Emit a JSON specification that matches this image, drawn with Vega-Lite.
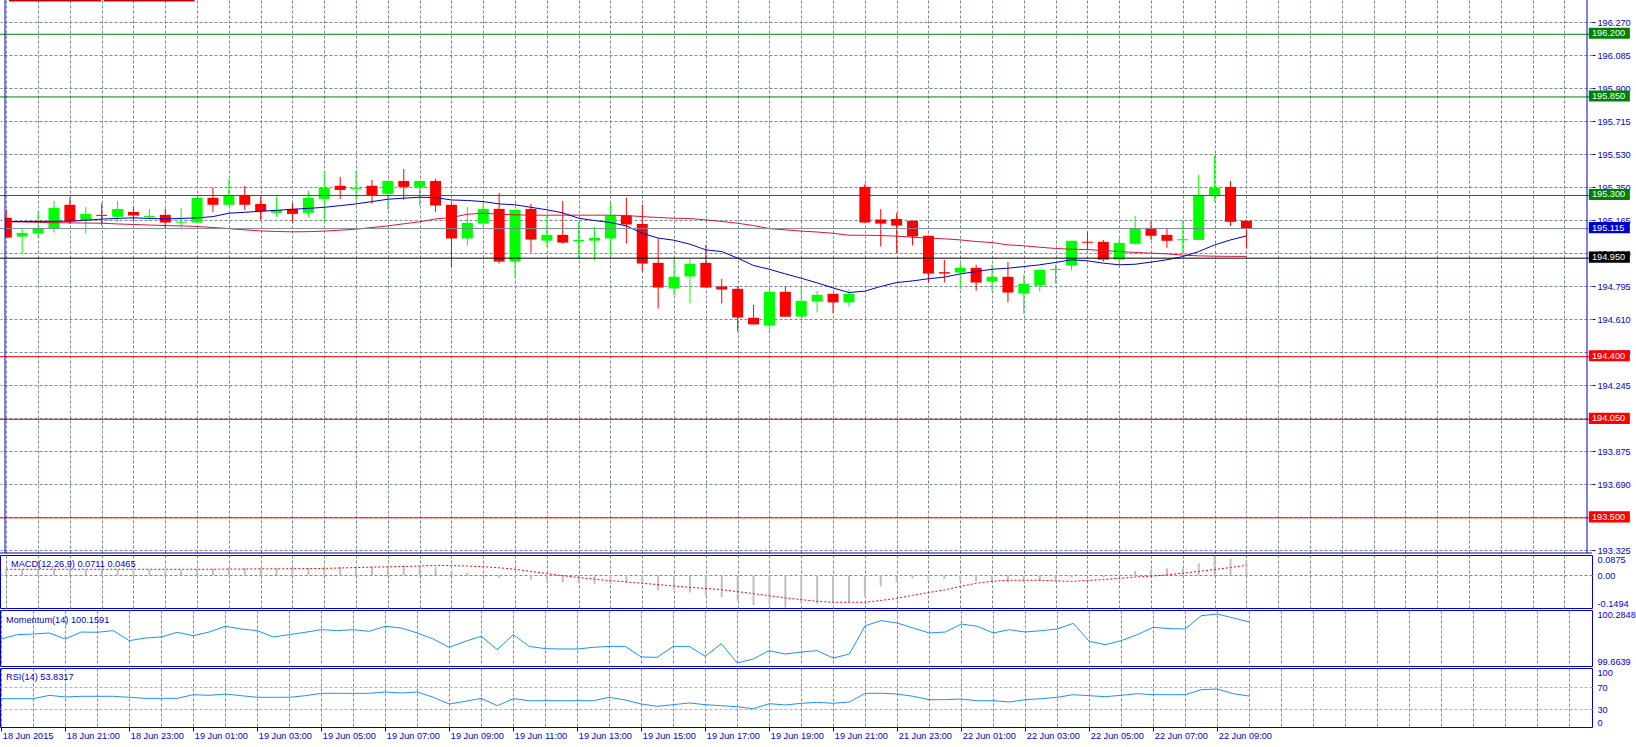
{
  "$schema": "https://vega.github.io/schema/vega-lite/v6.json",
  "background": "#ffffff",
  "autosize": {"type": "none"},
  "padding": {"left": 0, "top": 0, "right": 1636, "bottom": 747},
  "bounds": "flush",
  "spacing": 2,
  "config": {
    "view": {"stroke": "#0000cc", "strokeWidth": 1},
    "axis": {"labelFont": "Liberation Sans", "labelFontSize": 9.2, "labelColor": "#0000dd", "domain": false, "gridColor": "#778899", "gridDash": [3, 2], "gridWidth": 1, "tickColor": "#0000dd", "labelOverlap": false, "labelBound": false},
    "text": {"font": "Liberation Sans"}
  },
  "datasets": {
    "bars": [
      {"i":0,"o":195.175,"h":195.220,"l":195.062,"c":195.065,"ma1":195.154,"ma2":195.153,"macd":0.027,"sig":0.028,"mom":99.963,"rsi":49.0},
      {"i":1,"o":195.071,"h":195.112,"l":194.972,"c":195.091,"ma1":195.155,"ma2":195.152,"macd":0.027,"sig":0.028,"mom":100.013,"rsi":49.0},
      {"i":2,"o":195.088,"h":195.214,"l":195.067,"c":195.119,"ma1":195.155,"ma2":195.150,"macd":0.028,"sig":0.028,"mom":100.020,"rsi":49.0},
      {"i":3,"o":195.114,"h":195.270,"l":195.093,"c":195.231,"ma1":195.156,"ma2":195.148,"macd":0.029,"sig":0.028,"mom":100.032,"rsi":55.2},
      {"i":4,"o":195.248,"h":195.290,"l":195.141,"c":195.156,"ma1":195.156,"ma2":195.147,"macd":0.028,"sig":0.028,"mom":99.963,"rsi":52.1},
      {"i":5,"o":195.160,"h":195.236,"l":195.088,"c":195.197,"ma1":195.162,"ma2":195.146,"macd":0.027,"sig":0.028,"mom":100.043,"rsi":53.4},
      {"i":6,"o":195.192,"h":195.257,"l":195.132,"c":195.186,"ma1":195.168,"ma2":195.145,"macd":0.027,"sig":0.028,"mom":100.040,"rsi":53.4},
      {"i":7,"o":195.181,"h":195.270,"l":195.153,"c":195.225,"ma1":195.172,"ma2":195.141,"macd":0.028,"sig":0.028,"mom":100.059,"rsi":53.4},
      {"i":8,"o":195.208,"h":195.236,"l":195.158,"c":195.188,"ma1":195.175,"ma2":195.138,"macd":0.026,"sig":0.028,"mom":99.944,"rsi":51.6},
      {"i":9,"o":195.180,"h":195.225,"l":195.160,"c":195.186,"ma1":195.172,"ma2":195.135,"macd":0.026,"sig":0.028,"mom":99.974,"rsi":49.7},
      {"i":10,"o":195.192,"h":195.225,"l":195.117,"c":195.149,"ma1":195.169,"ma2":195.132,"macd":0.025,"sig":0.028,"mom":99.986,"rsi":49.7},
      {"i":11,"o":195.148,"h":195.231,"l":195.112,"c":195.154,"ma1":195.172,"ma2":195.130,"macd":0.025,"sig":0.028,"mom":100.040,"rsi":49.7},
      {"i":12,"o":195.149,"h":195.287,"l":195.149,"c":195.287,"ma1":195.175,"ma2":195.127,"macd":0.028,"sig":0.028,"mom":100.001,"rsi":56.4},
      {"i":13,"o":195.287,"h":195.344,"l":195.208,"c":195.248,"ma1":195.182,"ma2":195.121,"macd":0.030,"sig":0.028,"mom":100.043,"rsi":55.2},
      {"i":14,"o":195.248,"h":195.393,"l":195.248,"c":195.303,"ma1":195.201,"ma2":195.115,"macd":0.033,"sig":0.029,"mom":100.109,"rsi":57.6},
      {"i":15,"o":195.303,"h":195.354,"l":195.220,"c":195.248,"ma1":195.206,"ma2":195.108,"macd":0.034,"sig":0.029,"mom":100.078,"rsi":54.5},
      {"i":16,"o":195.253,"h":195.294,"l":195.164,"c":195.212,"ma1":195.212,"ma2":195.102,"macd":0.033,"sig":0.030,"mom":100.059,"rsi":51.6},
      {"i":17,"o":195.203,"h":195.294,"l":195.181,"c":195.220,"ma1":195.217,"ma2":195.099,"macd":0.033,"sig":0.030,"mom":99.986,"rsi":51.6},
      {"i":18,"o":195.225,"h":195.257,"l":195.147,"c":195.197,"ma1":195.223,"ma2":195.097,"macd":0.032,"sig":0.031,"mom":100.013,"rsi":51.6},
      {"i":19,"o":195.203,"h":195.326,"l":195.181,"c":195.287,"ma1":195.228,"ma2":195.098,"macd":0.034,"sig":0.031,"mom":100.040,"rsi":54.5},
      {"i":20,"o":195.281,"h":195.435,"l":195.153,"c":195.342,"ma1":195.234,"ma2":195.101,"macd":0.038,"sig":0.032,"mom":100.070,"rsi":58.9},
      {"i":21,"o":195.354,"h":195.404,"l":195.281,"c":195.331,"ma1":195.243,"ma2":195.106,"macd":0.040,"sig":0.034,"mom":100.059,"rsi":58.9},
      {"i":22,"o":195.337,"h":195.435,"l":195.275,"c":195.343,"ma1":195.253,"ma2":195.112,"macd":0.042,"sig":0.036,"mom":100.070,"rsi":58.9},
      {"i":23,"o":195.354,"h":195.387,"l":195.253,"c":195.303,"ma1":195.266,"ma2":195.121,"macd":0.041,"sig":0.038,"mom":100.051,"rsi":58.9},
      {"i":24,"o":195.309,"h":195.381,"l":195.220,"c":195.381,"ma1":195.279,"ma2":195.130,"macd":0.044,"sig":0.039,"mom":100.109,"rsi":61.3},
      {"i":25,"o":195.381,"h":195.448,"l":195.275,"c":195.348,"ma1":195.285,"ma2":195.142,"macd":0.046,"sig":0.041,"mom":100.089,"rsi":59.5},
      {"i":26,"o":195.348,"h":195.381,"l":195.242,"c":195.381,"ma1":195.290,"ma2":195.153,"macd":0.045,"sig":0.043,"mom":100.032,"rsi":61.3},
      {"i":27,"o":195.381,"h":195.393,"l":195.208,"c":195.244,"ma1":195.288,"ma2":195.169,"macd":0.040,"sig":0.046,"mom":99.963,"rsi":51.6},
      {"i":28,"o":195.248,"h":195.261,"l":194.903,"c":195.060,"ma1":195.275,"ma2":195.177,"macd":0.018,"sig":0.045,"mom":99.867,"rsi":39.2},
      {"i":29,"o":195.060,"h":195.236,"l":195.021,"c":195.147,"ma1":195.272,"ma2":195.195,"macd":0.012,"sig":0.043,"mom":99.936,"rsi":44.2},
      {"i":30,"o":195.143,"h":195.264,"l":195.115,"c":195.225,"ma1":195.266,"ma2":195.201,"macd":0.004,"sig":0.040,"mom":99.994,"rsi":49.7},
      {"i":31,"o":195.225,"h":195.314,"l":194.920,"c":194.931,"ma1":195.253,"ma2":195.195,"macd":-0.012,"sig":0.035,"mom":99.840,"rsi":36.1},
      {"i":32,"o":194.931,"h":195.220,"l":194.842,"c":195.220,"ma1":195.248,"ma2":195.192,"macd":-0.010,"sig":0.028,"mom":100.013,"rsi":49.0},
      {"i":33,"o":195.225,"h":195.253,"l":194.982,"c":195.054,"ma1":195.234,"ma2":195.190,"macd":-0.020,"sig":0.018,"mom":99.878,"rsi":45.3},
      {"i":34,"o":195.048,"h":195.186,"l":195.015,"c":195.080,"ma1":195.220,"ma2":195.190,"macd":-0.026,"sig":0.008,"mom":99.852,"rsi":45.3},
      {"i":35,"o":195.080,"h":195.270,"l":195.032,"c":195.037,"ma1":195.203,"ma2":195.190,"macd":-0.033,"sig":-0.002,"mom":99.848,"rsi":45.3},
      {"i":36,"o":195.045,"h":195.153,"l":194.948,"c":195.052,"ma1":195.173,"ma2":195.190,"macd":-0.036,"sig":-0.010,"mom":99.848,"rsi":45.3},
      {"i":37,"o":195.048,"h":195.125,"l":194.937,"c":195.063,"ma1":195.160,"ma2":195.190,"macd":-0.040,"sig":-0.018,"mom":99.867,"rsi":45.3},
      {"i":38,"o":195.060,"h":195.259,"l":194.965,"c":195.188,"ma1":195.149,"ma2":195.190,"macd":-0.039,"sig":-0.025,"mom":99.878,"rsi":51.6},
      {"i":39,"o":195.188,"h":195.287,"l":195.032,"c":195.138,"ma1":195.130,"ma2":195.188,"macd":-0.036,"sig":-0.031,"mom":99.878,"rsi":46.6},
      {"i":40,"o":195.141,"h":195.249,"l":194.875,"c":194.920,"ma1":195.089,"ma2":195.182,"macd":-0.042,"sig":-0.037,"mom":99.756,"rsi":39.2},
      {"i":41,"o":194.924,"h":195.060,"l":194.669,"c":194.786,"ma1":195.062,"ma2":195.177,"macd":-0.070,"sig":-0.043,"mom":99.752,"rsi":35.0},
      {"i":42,"o":194.781,"h":194.954,"l":194.742,"c":194.846,"ma1":195.050,"ma2":195.173,"macd":-0.066,"sig":-0.050,"mom":99.878,"rsi":37.9},
      {"i":43,"o":194.848,"h":194.946,"l":194.697,"c":194.918,"ma1":195.028,"ma2":195.171,"macd":-0.080,"sig":-0.056,"mom":99.878,"rsi":41.1},
      {"i":44,"o":194.924,"h":195.024,"l":194.786,"c":194.786,"ma1":194.996,"ma2":195.164,"macd":-0.094,"sig":-0.061,"mom":99.764,"rsi":38.0},
      {"i":45,"o":194.792,"h":194.835,"l":194.697,"c":194.775,"ma1":194.987,"ma2":195.155,"macd":-0.101,"sig":-0.067,"mom":99.909,"rsi":36.1},
      {"i":46,"o":194.779,"h":194.792,"l":194.541,"c":194.619,"ma1":194.950,"ma2":195.145,"macd":-0.118,"sig":-0.076,"mom":99.687,"rsi":34.2},
      {"i":47,"o":194.617,"h":194.689,"l":194.580,"c":194.580,"ma1":194.909,"ma2":195.132,"macd":-0.138,"sig":-0.085,"mom":99.733,"rsi":30.6},
      {"i":48,"o":194.574,"h":194.790,"l":194.541,"c":194.762,"ma1":194.888,"ma2":195.115,"macd":-0.136,"sig":-0.095,"mom":99.829,"rsi":39.8},
      {"i":49,"o":194.762,"h":194.790,"l":194.623,"c":194.623,"ma1":194.862,"ma2":195.108,"macd":-0.1494,"sig":-0.105,"mom":99.790,"rsi":37.4},
      {"i":50,"o":194.624,"h":194.790,"l":194.624,"c":194.712,"ma1":194.838,"ma2":195.101,"macd":-0.133,"sig":-0.113,"mom":99.813,"rsi":40.5},
      {"i":51,"o":194.708,"h":194.768,"l":194.647,"c":194.745,"ma1":194.812,"ma2":195.096,"macd":-0.132,"sig":-0.121,"mom":99.829,"rsi":42.3},
      {"i":52,"o":194.751,"h":194.751,"l":194.643,"c":194.703,"ma1":194.784,"ma2":195.089,"macd":-0.127,"sig":-0.125,"mom":99.744,"rsi":40.5},
      {"i":53,"o":194.703,"h":194.777,"l":194.680,"c":194.751,"ma1":194.758,"ma2":195.078,"macd":-0.127,"sig":-0.125,"mom":99.790,"rsi":42.9},
      {"i":54,"o":195.348,"h":195.365,"l":195.149,"c":195.149,"ma1":194.766,"ma2":195.078,"macd":-0.098,"sig":-0.125,"mom":100.116,"rsi":58.9},
      {"i":55,"o":195.166,"h":195.225,"l":195.015,"c":195.143,"ma1":194.792,"ma2":195.076,"macd":-0.051,"sig":-0.117,"mom":100.174,"rsi":58.9},
      {"i":56,"o":195.169,"h":195.203,"l":194.980,"c":195.132,"ma1":194.814,"ma2":195.073,"macd":-0.030,"sig":-0.107,"mom":100.147,"rsi":57.6},
      {"i":57,"o":195.158,"h":195.162,"l":195.021,"c":195.071,"ma1":194.823,"ma2":195.067,"macd":-0.014,"sig":-0.093,"mom":100.089,"rsi":53.4},
      {"i":58,"o":195.075,"h":195.075,"l":194.814,"c":194.864,"ma1":194.835,"ma2":195.062,"macd":-0.020,"sig":-0.080,"mom":100.032,"rsi":47.2},
      {"i":59,"o":194.872,"h":194.941,"l":194.814,"c":194.864,"ma1":194.844,"ma2":195.058,"macd":-0.018,"sig":-0.068,"mom":100.043,"rsi":47.2},
      {"i":60,"o":194.870,"h":194.924,"l":194.775,"c":194.896,"ma1":194.862,"ma2":195.052,"macd":-0.022,"sig":-0.052,"mom":100.135,"rsi":48.4},
      {"i":61,"o":194.896,"h":194.913,"l":194.769,"c":194.814,"ma1":194.875,"ma2":195.043,"macd":-0.028,"sig":-0.037,"mom":100.109,"rsi":45.3},
      {"i":62,"o":194.820,"h":194.913,"l":194.764,"c":194.846,"ma1":194.888,"ma2":195.037,"macd":-0.024,"sig":-0.028,"mom":100.032,"rsi":45.3},
      {"i":63,"o":194.846,"h":194.929,"l":194.703,"c":194.758,"ma1":194.894,"ma2":195.024,"macd":-0.033,"sig":-0.023,"mom":100.070,"rsi":42.9},
      {"i":64,"o":194.753,"h":194.857,"l":194.641,"c":194.807,"ma1":194.903,"ma2":195.019,"macd":-0.031,"sig":-0.023,"mom":100.043,"rsi":47.2},
      {"i":65,"o":194.797,"h":194.885,"l":194.764,"c":194.885,"ma1":194.913,"ma2":195.011,"macd":-0.027,"sig":-0.023,"mom":100.059,"rsi":49.0},
      {"i":66,"o":194.884,"h":194.913,"l":194.809,"c":194.890,"ma1":194.926,"ma2":195.004,"macd":-0.022,"sig":-0.026,"mom":100.078,"rsi":51.6},
      {"i":67,"o":194.909,"h":195.047,"l":194.881,"c":195.047,"ma1":194.941,"ma2":195.000,"macd":-0.008,"sig":-0.028,"mom":100.143,"rsi":56.4},
      {"i":68,"o":195.042,"h":195.097,"l":194.998,"c":195.036,"ma1":194.935,"ma2":194.998,"macd":-0.004,"sig":-0.024,"mom":99.936,"rsi":54.5},
      {"i":69,"o":195.041,"h":195.052,"l":194.931,"c":194.942,"ma1":194.922,"ma2":194.993,"macd":-0.009,"sig":-0.020,"mom":99.898,"rsi":52.8},
      {"i":70,"o":194.942,"h":195.058,"l":194.909,"c":195.035,"ma1":194.913,"ma2":194.987,"macd":0.004,"sig":-0.014,"mom":99.944,"rsi":55.2},
      {"i":71,"o":195.030,"h":195.186,"l":195.024,"c":195.119,"ma1":194.916,"ma2":194.982,"macd":0.020,"sig":-0.008,"mom":100.013,"rsi":58.3},
      {"i":72,"o":195.119,"h":195.153,"l":195.052,"c":195.075,"ma1":194.928,"ma2":194.978,"macd":0.027,"sig":-0.004,"mom":100.097,"rsi":56.4},
      {"i":73,"o":195.080,"h":195.119,"l":195.008,"c":195.047,"ma1":194.941,"ma2":194.974,"macd":0.032,"sig":0.002,"mom":100.082,"rsi":56.4},
      {"i":74,"o":195.050,"h":195.158,"l":194.982,"c":195.056,"ma1":194.959,"ma2":194.967,"macd":0.032,"sig":0.010,"mom":100.078,"rsi":56.4},
      {"i":75,"o":195.052,"h":195.415,"l":195.052,"c":195.303,"ma1":194.987,"ma2":194.963,"macd":0.056,"sig":0.018,"mom":100.231,"rsi":65.6},
      {"i":76,"o":195.303,"h":195.525,"l":195.266,"c":195.344,"ma1":195.024,"ma2":194.961,"macd":0.0875,"sig":0.027,"mom":100.250,"rsi":66.9},
      {"i":77,"o":195.348,"h":195.381,"l":195.130,"c":195.153,"ma1":195.052,"ma2":194.960,"macd":0.076,"sig":0.036,"mom":100.204,"rsi":58.3},
      {"i":78,"o":195.159,"h":195.159,"l":195.004,"c":195.115,"ma1":195.074,"ma2":194.960,"macd":0.0711,"sig":0.0465,"mom":100.1591,"rsi":53.8317}
    ],
    "levels": [
      {"level": 196.2, "kind": "resistance"},
      {"level": 195.85, "kind": "resistance"},
      {"level": 195.3, "kind": "resistance"},
      {"level": 195.115, "kind": "bid"},
      {"level": 194.95, "kind": "pivot"},
      {"level": 194.4, "kind": "support"},
      {"level": 194.05, "kind": "support"},
      {"level": 193.5, "kind": "support"}
    ]
  },
  "vconcat": [
    {
      "width": 1592,
      "height": 553,
      "view": {"stroke": null},
      "layer": [
        {
          "data": {"name": "bars"},
          "mark": {"type": "rule", "strokeWidth": 1, "clip": true},
          "encoding": {
            "x": {"field": "i", "type": "quantitative", "scale": {"domain": [-0.08, 99.42], "nice": false, "zero": false},
              "axis": {"title": null, "values": [0,2,4,6,8,10,12,14,16,18,20,22,24,26,28,30,32,34,36,38,40,42,44,46,48,50,52,54,56,58,60,62,64,66,68,70,72,74,76,78,80,82,84,86,88,90,92,94,96,98], "labels": false, "ticks": false, "grid": true}},
            "y": {"field": "l", "type": "quantitative", "scale": {"domain": [193.3038, 196.3914], "nice": false, "zero": false},
              "axis": {"title": null, "orient": "right", "values": [196.267, 196.0826, 195.8983, 195.714, 195.5297, 195.3454, 195.161, 194.9767, 194.7924, 194.6081, 194.4238, 194.2394, 194.0551, 193.8708, 193.6865, 193.5022, 193.3178], "labelExpr": "['196.270','196.085','195.900','195.715','195.530','195.350','195.165','194.980','194.795','194.610','194.430','194.245','','193.875','193.690','','193.325'][round((196.267 - datum.value) / 0.18432)]", "grid": true, "ticks": true, "tickSize": 3, "labelPadding": 2, "labelBaseline": "middle", "labelFlush": false}},
            "y2": {"field": "h"},
            "color": {"condition": {"test": "datum.c >= datum.o", "value": "#00ff00"}, "value": "#ff0000"}
          }
        },
        {
          "data": {"name": "bars"},
          "transform": [{"filter": "datum.i > 0"}],
          "mark": {"type": "bar", "width": 11, "clip": true},
          "encoding": {
            "x": {"field": "i", "type": "quantitative", "scale": {"domain": [-0.08, 99.42], "nice": false, "zero": false},
              "axis": {"title": null, "values": [0,2,4,6,8,10,12,14,16,18,20,22,24,26,28,30,32,34,36,38,40,42,44,46,48,50,52,54,56,58,60,62,64,66,68,70,72,74,76,78,80,82,84,86,88,90,92,94,96,98], "labels": false, "ticks": false, "grid": true}},
            "y": {"field": "o", "type": "quantitative", "scale": {"domain": [193.3038, 196.3914], "nice": false, "zero": false},
              "axis": {"title": null, "orient": "right", "values": [196.267, 196.0826, 195.8983, 195.714, 195.5297, 195.3454, 195.161, 194.9767, 194.7924, 194.6081, 194.4238, 194.2394, 194.0551, 193.8708, 193.6865, 193.5022, 193.3178], "labelExpr": "['196.270','196.085','195.900','195.715','195.530','195.350','195.165','194.980','194.795','194.610','194.430','194.245','','193.875','193.690','','193.325'][round((196.267 - datum.value) / 0.18432)]", "grid": true, "ticks": true, "tickSize": 3, "labelPadding": 2, "labelBaseline": "middle", "labelFlush": false}},
            "y2": {"field": "c"},
            "color": {"condition": {"test": "datum.c >= datum.o", "value": "#00ff00"}, "value": "#ff0000"}
          }
        },
        {
          "data": {"name": "bars"},
          "transform": [{"filter": "datum.i == 0"}],
          "mark": {"type": "bar", "width": 6.8, "xOffset": 2.12, "clip": true},
          "encoding": {
            "x": {"field": "i", "type": "quantitative", "scale": {"domain": [-0.08, 99.42], "nice": false, "zero": false},
              "axis": {"title": null, "values": [0,2,4,6,8,10,12,14,16,18,20,22,24,26,28,30,32,34,36,38,40,42,44,46,48,50,52,54,56,58,60,62,64,66,68,70,72,74,76,78,80,82,84,86,88,90,92,94,96,98], "labels": false, "ticks": false, "grid": true}},
            "y": {"field": "o", "type": "quantitative", "scale": {"domain": [193.3038, 196.3914], "nice": false, "zero": false},
              "axis": {"title": null, "orient": "right", "values": [196.267, 196.0826, 195.8983, 195.714, 195.5297, 195.3454, 195.161, 194.9767, 194.7924, 194.6081, 194.4238, 194.2394, 194.0551, 193.8708, 193.6865, 193.5022, 193.3178], "labelExpr": "['196.270','196.085','195.900','195.715','195.530','195.350','195.165','194.980','194.795','194.610','194.430','194.245','','193.875','193.690','','193.325'][round((196.267 - datum.value) / 0.18432)]", "grid": true, "ticks": true, "tickSize": 3, "labelPadding": 2, "labelBaseline": "middle", "labelFlush": false}},
            "y2": {"field": "c"},
            "color": {"condition": {"test": "datum.c >= datum.o", "value": "#00ff00"}, "value": "#ff0000"}
          }
        },
        {
          "data": {"name": "bars"},
          "mark": {"type": "line", "color": "#dc143c", "strokeWidth": 1, "clip": true},
          "encoding": {
            "x": {"field": "i", "type": "quantitative", "scale": {"domain": [-0.08, 99.42], "nice": false, "zero": false},
              "axis": {"title": null, "values": [0,2,4,6,8,10,12,14,16,18,20,22,24,26,28,30,32,34,36,38,40,42,44,46,48,50,52,54,56,58,60,62,64,66,68,70,72,74,76,78,80,82,84,86,88,90,92,94,96,98], "labels": false, "ticks": false, "grid": true}},
            "y": {"field": "ma2", "type": "quantitative", "scale": {"domain": [193.3038, 196.3914], "nice": false, "zero": false},
              "axis": {"title": null, "orient": "right", "values": [196.267, 196.0826, 195.8983, 195.714, 195.5297, 195.3454, 195.161, 194.9767, 194.7924, 194.6081, 194.4238, 194.2394, 194.0551, 193.8708, 193.6865, 193.5022, 193.3178], "labelExpr": "['196.270','196.085','195.900','195.715','195.530','195.350','195.165','194.980','194.795','194.610','194.430','194.245','','193.875','193.690','','193.325'][round((196.267 - datum.value) / 0.18432)]", "grid": true, "ticks": true, "tickSize": 3, "labelPadding": 2, "labelBaseline": "middle", "labelFlush": false}}
          }
        },
        {
          "data": {"name": "bars"},
          "mark": {"type": "line", "color": "#0000cd", "strokeWidth": 1, "clip": true},
          "encoding": {
            "x": {"field": "i", "type": "quantitative", "scale": {"domain": [-0.08, 99.42], "nice": false, "zero": false},
              "axis": {"title": null, "values": [0,2,4,6,8,10,12,14,16,18,20,22,24,26,28,30,32,34,36,38,40,42,44,46,48,50,52,54,56,58,60,62,64,66,68,70,72,74,76,78,80,82,84,86,88,90,92,94,96,98], "labels": false, "ticks": false, "grid": true}},
            "y": {"field": "ma1", "type": "quantitative", "scale": {"domain": [193.3038, 196.3914], "nice": false, "zero": false},
              "axis": {"title": null, "orient": "right", "values": [196.267, 196.0826, 195.8983, 195.714, 195.5297, 195.3454, 195.161, 194.9767, 194.7924, 194.6081, 194.4238, 194.2394, 194.0551, 193.8708, 193.6865, 193.5022, 193.3178], "labelExpr": "['196.270','196.085','195.900','195.715','195.530','195.350','195.165','194.980','194.795','194.610','194.430','194.245','','193.875','193.690','','193.325'][round((196.267 - datum.value) / 0.18432)]", "grid": true, "ticks": true, "tickSize": 3, "labelPadding": 2, "labelBaseline": "middle", "labelFlush": false}}
          }
        },
        {
          "data": {"name": "levels"},
          "mark": {"type": "rule", "strokeWidth": 1},
          "encoding": {
            "y": {"field": "level", "type": "quantitative", "scale": {"domain": [193.3038, 196.3914], "nice": false, "zero": false},
              "axis": {"title": null, "orient": "right", "values": [196.267, 196.0826, 195.8983, 195.714, 195.5297, 195.3454, 195.161, 194.9767, 194.7924, 194.6081, 194.4238, 194.2394, 194.0551, 193.8708, 193.6865, 193.5022, 193.3178], "labelExpr": "['196.270','196.085','195.900','195.715','195.530','195.350','195.165','194.980','194.795','194.610','194.430','194.245','','193.875','193.690','','193.325'][round((196.267 - datum.value) / 0.18432)]", "grid": true, "ticks": true, "tickSize": 3, "labelPadding": 2, "labelBaseline": "middle", "labelFlush": false}},
            "color": {"condition": [{"test": "datum.kind == 'resistance'", "value": "#008000"}, {"test": "datum.kind == 'support'", "value": "#ff0000"}, {"test": "datum.kind == 'bid'", "value": "#778899"}], "value": "#000000"}
          }
        },
        {
          "data": {"name": "levels"},
          "mark": {"type": "point", "shape": "M-1,-0.27H1V0.27H-1Z", "filled": true, "size": 1681, "opacity": 1, "strokeWidth": 0, "yOffset": -1},
          "encoding": {
            "x": {"datum": 100.826, "type": "quantitative", "scale": {"domain": [-0.08, 99.42], "nice": false, "zero": false},
              "axis": {"title": null, "values": [0,2,4,6,8,10,12,14,16,18,20,22,24,26,28,30,32,34,36,38,40,42,44,46,48,50,52,54,56,58,60,62,64,66,68,70,72,74,76,78,80,82,84,86,88,90,92,94,96,98], "labels": false, "ticks": false, "grid": true}},
            "y": {"field": "level", "type": "quantitative", "scale": {"domain": [193.3038, 196.3914], "nice": false, "zero": false},
              "axis": {"title": null, "orient": "right", "values": [196.267, 196.0826, 195.8983, 195.714, 195.5297, 195.3454, 195.161, 194.9767, 194.7924, 194.6081, 194.4238, 194.2394, 194.0551, 193.8708, 193.6865, 193.5022, 193.3178], "labelExpr": "['196.270','196.085','195.900','195.715','195.530','195.350','195.165','194.980','194.795','194.610','194.430','194.245','','193.875','193.690','','193.325'][round((196.267 - datum.value) / 0.18432)]", "grid": true, "ticks": true, "tickSize": 3, "labelPadding": 2, "labelBaseline": "middle", "labelFlush": false}},
            "color": {"condition": [{"test": "datum.kind == 'resistance'", "value": "#008000"}, {"test": "datum.kind == 'support'", "value": "#ff0000"}, {"test": "datum.kind == 'bid'", "value": "#0000cd"}], "value": "#000000"}
          }
        },
        {
          "data": {"name": "levels"},
          "mark": {"type": "text", "align": "left", "baseline": "middle", "color": "#ffffff", "fontSize": 9.2, "dy": -1},
          "encoding": {
            "x": {"datum": 99.73, "type": "quantitative", "scale": {"domain": [-0.08, 99.42], "nice": false, "zero": false},
              "axis": {"title": null, "values": [0,2,4,6,8,10,12,14,16,18,20,22,24,26,28,30,32,34,36,38,40,42,44,46,48,50,52,54,56,58,60,62,64,66,68,70,72,74,76,78,80,82,84,86,88,90,92,94,96,98], "labels": false, "ticks": false, "grid": true}},
            "y": {"field": "level", "type": "quantitative", "scale": {"domain": [193.3038, 196.3914], "nice": false, "zero": false},
              "axis": {"title": null, "orient": "right", "values": [196.267, 196.0826, 195.8983, 195.714, 195.5297, 195.3454, 195.161, 194.9767, 194.7924, 194.6081, 194.4238, 194.2394, 194.0551, 193.8708, 193.6865, 193.5022, 193.3178], "labelExpr": "['196.270','196.085','195.900','195.715','195.530','195.350','195.165','194.980','194.795','194.610','194.430','194.245','','193.875','193.690','','193.325'][round((196.267 - datum.value) / 0.18432)]", "grid": true, "ticks": true, "tickSize": 3, "labelPadding": 2, "labelBaseline": "middle", "labelFlush": false}},
            "text": {"field": "level", "type": "quantitative", "format": ".3f"}
          }
        },
        {
          "data": {"values": [{"edge": -0.08}, {"edge": 99.42}]},
          "mark": {"type": "rule", "color": "#0000cc", "strokeWidth": 1},
          "encoding": {
            "x": {"field": "edge", "type": "quantitative", "scale": {"domain": [-0.08, 99.42], "nice": false, "zero": false},
              "axis": {"title": null, "values": [0,2,4,6,8,10,12,14,16,18,20,22,24,26,28,30,32,34,36,38,40,42,44,46,48,50,52,54,56,58,60,62,64,66,68,70,72,74,76,78,80,82,84,86,88,90,92,94,96,98], "labels": false, "ticks": false, "grid": true}}
          }
        },
        {
          "data": {"values": [{"edge": 193.3038}]},
          "mark": {"type": "rule", "color": "#0000cc", "strokeWidth": 1},
          "encoding": {
            "y": {"field": "edge", "type": "quantitative", "scale": {"domain": [193.3038, 196.3914], "nice": false, "zero": false},
              "axis": {"title": null, "orient": "right", "values": [196.267, 196.0826, 195.8983, 195.714, 195.5297, 195.3454, 195.161, 194.9767, 194.7924, 194.6081, 194.4238, 194.2394, 194.0551, 193.8708, 193.6865, 193.5022, 193.3178], "labelExpr": "['196.270','196.085','195.900','195.715','195.530','195.350','195.165','194.980','194.795','194.610','194.430','194.245','','193.875','193.690','','193.325'][round((196.267 - datum.value) / 0.18432)]", "grid": true, "ticks": true, "tickSize": 3, "labelPadding": 2, "labelBaseline": "middle", "labelFlush": false}}
          }
        },
        {
          "data": {"values": [{"a": 0.17, "b": 5.964, "y": 196.3875}, {"a": 6.126, "b": 11.839, "y": 196.3875}]},
          "mark": {"type": "rule", "color": "#c00000", "strokeWidth": 1.4},
          "encoding": {
            "x": {"field": "a", "type": "quantitative", "scale": {"domain": [-0.08, 99.42], "nice": false, "zero": false},
              "axis": {"title": null, "values": [0,2,4,6,8,10,12,14,16,18,20,22,24,26,28,30,32,34,36,38,40,42,44,46,48,50,52,54,56,58,60,62,64,66,68,70,72,74,76,78,80,82,84,86,88,90,92,94,96,98], "labels": false, "ticks": false, "grid": true}},
            "x2": {"field": "b"},
            "y": {"field": "y", "type": "quantitative", "scale": {"domain": [193.3038, 196.3914], "nice": false, "zero": false},
              "axis": {"title": null, "orient": "right", "values": [196.267, 196.0826, 195.8983, 195.714, 195.5297, 195.3454, 195.161, 194.9767, 194.7924, 194.6081, 194.4238, 194.2394, 194.0551, 193.8708, 193.6865, 193.5022, 193.3178], "labelExpr": "['196.270','196.085','195.900','195.715','195.530','195.350','195.165','194.980','194.795','194.610','194.430','194.245','','193.875','193.690','','193.325'][round((196.267 - datum.value) / 0.18432)]", "grid": true, "ticks": true, "tickSize": 3, "labelPadding": 2, "labelBaseline": "middle", "labelFlush": false}}
          }
        }
      ]
    },
    {
      "width": 1592,
      "height": 53,
      "layer": [
        {
          "data": {"name": "bars"},
          "mark": {"type": "bar", "width": 2, "color": "#c0c0c0"},
          "encoding": {
            "x": {"field": "i", "type": "quantitative", "scale": {"domain": [-0.08, 99.42], "nice": false, "zero": false},
              "axis": {"title": null, "values": [0,2,4,6,8,10,12,14,16,18,20,22,24,26,28,30,32,34,36,38,40,42,44,46,48,50,52,54,56,58,60,62,64,66,68,70,72,74,76,78,80,82,84,86,88,90,92,94,96,98], "labels": false, "ticks": false, "grid": true}},
            "y": {"field": "macd", "type": "quantitative", "scale": {"domain": [-0.1519, 0.0943], "nice": false, "zero": false},
              "axis": {"title": null, "orient": "right", "values": [-0.1519, 0, 0.0943], "labelExpr": "datum.value > 0.05 ? '0.0875' : (datum.value < -0.1 ? '-0.1494' : '0.00')", "labelFlush": true, "ticks": false, "labelPadding": 5, "grid": true, "gridOpacity": {"condition": {"test": "datum.value == 0", "value": 1}, "value": 0}}},
            "y2": {"datum": 0}
          }
        },
        {
          "data": {"name": "bars"},
          "mark": {"type": "line", "color": "#ff0000", "strokeWidth": 1, "strokeDash": [2, 2]},
          "encoding": {
            "x": {"field": "i", "type": "quantitative", "scale": {"domain": [-0.08, 99.42], "nice": false, "zero": false},
              "axis": {"title": null, "values": [0,2,4,6,8,10,12,14,16,18,20,22,24,26,28,30,32,34,36,38,40,42,44,46,48,50,52,54,56,58,60,62,64,66,68,70,72,74,76,78,80,82,84,86,88,90,92,94,96,98], "labels": false, "ticks": false, "grid": true}},
            "y": {"field": "sig", "type": "quantitative", "scale": {"domain": [-0.1519, 0.0943], "nice": false, "zero": false},
              "axis": {"title": null, "orient": "right", "values": [-0.1519, 0, 0.0943], "labelExpr": "datum.value > 0.05 ? '0.0875' : (datum.value < -0.1 ? '-0.1494' : '0.00')", "labelFlush": true, "ticks": false, "labelPadding": 5, "grid": true, "gridOpacity": {"condition": {"test": "datum.value == 0", "value": 1}, "value": 0}}}
          }
        },
        {
          "data": {"values": [{"label": "MACD(12,26,9) 0.0711 0.0465", "x": 0.3, "y": 0.0525}]},
          "mark": {"type": "text", "align": "left", "baseline": "middle", "color": "#0000cc", "fontSize": 9.2},
          "encoding": {
            "x": {"field": "x", "type": "quantitative", "scale": {"domain": [-0.08, 99.42], "nice": false, "zero": false},
              "axis": {"title": null, "values": [0,2,4,6,8,10,12,14,16,18,20,22,24,26,28,30,32,34,36,38,40,42,44,46,48,50,52,54,56,58,60,62,64,66,68,70,72,74,76,78,80,82,84,86,88,90,92,94,96,98], "labels": false, "ticks": false, "grid": true}},
            "y": {"field": "y", "type": "quantitative", "scale": {"domain": [-0.1519, 0.0943], "nice": false, "zero": false},
              "axis": {"title": null, "orient": "right", "values": [-0.1519, 0, 0.0943], "labelExpr": "datum.value > 0.05 ? '0.0875' : (datum.value < -0.1 ? '-0.1494' : '0.00')", "labelFlush": true, "ticks": false, "labelPadding": 5, "grid": true, "gridOpacity": {"condition": {"test": "datum.value == 0", "value": 1}, "value": 0}}},
            "text": {"field": "label"}
          }
        }
      ]
    },
    {
      "width": 1592,
      "height": 56,
      "layer": [
        {
          "data": {"name": "bars"},
          "mark": {"type": "line", "color": "#1e90ff", "strokeWidth": 1},
          "encoding": {
            "x": {"field": "i", "type": "quantitative", "scale": {"domain": [-0.08, 99.42], "nice": false, "zero": false},
              "axis": {"title": null, "values": [0,2,4,6,8,10,12,14,16,18,20,22,24,26,28,30,32,34,36,38,40,42,44,46,48,50,52,54,56,58,60,62,64,66,68,70,72,74,76,78,80,82,84,86,88,90,92,94,96,98], "labels": false, "ticks": false, "grid": true}},
            "y": {"field": "mom", "type": "quantitative", "scale": {"domain": [99.6524, 100.2963], "nice": false, "zero": false},
              "axis": {"title": null, "orient": "right", "values": [99.6524, 100.2963], "labelExpr": "datum.value > 100 ? '100.2848' : '99.6639'", "labelFlush": true, "ticks": false, "labelPadding": 5, "grid": false}}
          }
        },
        {
          "data": {"values": [{"label": "Momentum(14) 100.1591", "x": 0.3, "y": 100.187}]},
          "mark": {"type": "text", "align": "left", "baseline": "middle", "color": "#0000cc", "fontSize": 9.2},
          "encoding": {
            "x": {"field": "x", "type": "quantitative", "scale": {"domain": [-0.08, 99.42], "nice": false, "zero": false},
              "axis": {"title": null, "values": [0,2,4,6,8,10,12,14,16,18,20,22,24,26,28,30,32,34,36,38,40,42,44,46,48,50,52,54,56,58,60,62,64,66,68,70,72,74,76,78,80,82,84,86,88,90,92,94,96,98], "labels": false, "ticks": false, "grid": true}},
            "y": {"field": "y", "type": "quantitative", "scale": {"domain": [99.6524, 100.2963], "nice": false, "zero": false},
              "axis": {"title": null, "orient": "right", "values": [99.6524, 100.2963], "labelExpr": "datum.value > 100 ? '100.2848' : '99.6639'", "labelFlush": true, "ticks": false, "labelPadding": 5, "grid": false}},
            "text": {"field": "label"}
          }
        }
      ]
    },
    {
      "width": 1592,
      "height": 59,
      "layer": [
        {
          "data": {"name": "bars"},
          "mark": {"type": "line", "color": "#1e90ff", "strokeWidth": 1},
          "encoding": {
            "x": {"field": "i", "type": "quantitative", "scale": {"domain": [-0.08, 99.42], "nice": false, "zero": false},
              "axis": {"title": null, "values": [0,2,4,6,8,10,12,14,16,18,20,22,24,26,28,30,32,34,36,38,40,42,44,46,48,50,52,54,56,58,60,62,64,66,68,70,72,74,76,78,80,82,84,86,88,90,92,94,96,98], "grid": true, "ticks": true, "tickSize": 4, "tickColor": {"condition": {"test": "datum.value % 4 == 0 && datum.value <= 76", "value": "#0000cc"}, "value": "transparent"}, "labelExpr": "(datum.value % 4 == 0 && datum.value <= 76) ? ['18 Jun 2015','18 Jun 21:00','18 Jun 23:00','19 Jun 01:00','19 Jun 03:00','19 Jun 05:00','19 Jun 07:00','19 Jun 09:00','19 Jun 11:00','19 Jun 13:00','19 Jun 15:00','19 Jun 17:00','19 Jun 19:00','19 Jun 21:00','21 Jun 23:00','22 Jun 01:00','22 Jun 03:00','22 Jun 05:00','22 Jun 07:00','22 Jun 09:00'][datum.value / 4] : ''", "labelAlign": "left", "labelBaseline": "top", "labelPadding": 0, "labelOffset": 1, "labelFlush": false}},
            "y": {"field": "rsi", "type": "quantitative", "scale": {"domain": [-3.18, 105.58], "nice": false, "zero": false},
              "axis": {"title": null, "orient": "right", "values": [-3.18, 30, 70, 105.58], "labelExpr": "datum.value > 100 ? '100' : (datum.value < 0 ? '0' : format(datum.value, 'd'))", "labelFlush": true, "ticks": false, "labelPadding": 5, "grid": true, "gridColor": "#b4b4b4", "gridOpacity": {"condition": {"test": "datum.value == 30 || datum.value == 70", "value": 1}, "value": 0}}}
          }
        },
        {
          "data": {"values": [{"label": "RSI(14) 53.8317", "x": 0.3, "y": 89}]},
          "mark": {"type": "text", "align": "left", "baseline": "middle", "color": "#0000cc", "fontSize": 9.2},
          "encoding": {
            "x": {"field": "x", "type": "quantitative", "scale": {"domain": [-0.08, 99.42], "nice": false, "zero": false},
              "axis": {"title": null, "values": [0,2,4,6,8,10,12,14,16,18,20,22,24,26,28,30,32,34,36,38,40,42,44,46,48,50,52,54,56,58,60,62,64,66,68,70,72,74,76,78,80,82,84,86,88,90,92,94,96,98], "grid": true, "ticks": true, "tickSize": 4, "tickColor": {"condition": {"test": "datum.value % 4 == 0 && datum.value <= 76", "value": "#0000cc"}, "value": "transparent"}, "labelExpr": "(datum.value % 4 == 0 && datum.value <= 76) ? ['18 Jun 2015','18 Jun 21:00','18 Jun 23:00','19 Jun 01:00','19 Jun 03:00','19 Jun 05:00','19 Jun 07:00','19 Jun 09:00','19 Jun 11:00','19 Jun 13:00','19 Jun 15:00','19 Jun 17:00','19 Jun 19:00','19 Jun 21:00','21 Jun 23:00','22 Jun 01:00','22 Jun 03:00','22 Jun 05:00','22 Jun 07:00','22 Jun 09:00'][datum.value / 4] : ''", "labelAlign": "left", "labelBaseline": "top", "labelPadding": 0, "labelOffset": 1, "labelFlush": false}},
            "y": {"field": "y", "type": "quantitative", "scale": {"domain": [-3.18, 105.58], "nice": false, "zero": false},
              "axis": {"title": null, "orient": "right", "values": [-3.18, 30, 70, 105.58], "labelExpr": "datum.value > 100 ? '100' : (datum.value < 0 ? '0' : format(datum.value, 'd'))", "labelFlush": true, "ticks": false, "labelPadding": 5, "grid": true, "gridColor": "#b4b4b4", "gridOpacity": {"condition": {"test": "datum.value == 30 || datum.value == 70", "value": 1}, "value": 0}}},
            "text": {"field": "label"}
          }
        }
      ]
    }
  ]
}
